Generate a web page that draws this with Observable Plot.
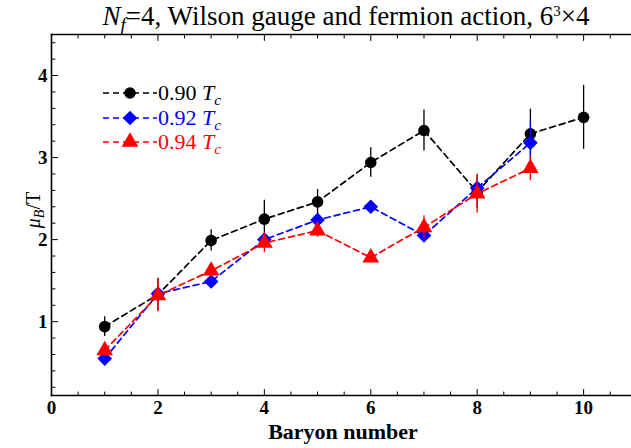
<!DOCTYPE html>
<html><head><meta charset="utf-8">
<script src="https://cdn.jsdelivr.net/npm/d3@7"></script>
<script src="https://cdn.jsdelivr.net/npm/@observablehq/plot@0.6"></script>
<style>
body{margin:0;background:#fff;}
#wrap{position:relative;width:631px;height:448px;font-family:"Liberation Serif","Times New Roman",Times,serif;overflow:hidden;background:#fff}
#title{height:30px;position:relative}
#title span{position:absolute;left:346px;top:3px;transform:translateX(-50%);white-space:nowrap;font-size:27px;line-height:1}
#xlabel{position:absolute;left:343px;top:421px;transform:translateX(-50%);font-size:22px;font-weight:bold;line-height:1;white-space:nowrap}
#ylabel{position:absolute;left:33px;top:210px;transform:translate(-50%,-50%) rotate(-90deg);font-size:20px;line-height:1;white-space:nowrap}
#legend{position:absolute;left:103px;top:81px;}
.lrow{display:flex;align-items:center;height:24.5px;font-size:22px;line-height:1;white-space:nowrap}
.lrow svg{display:block;margin-right:1px}
sub{font-size:0.7em;vertical-align:-0.3em;line-height:0}
sup{font-size:0.55em;vertical-align:0.6em;line-height:0}
</style></head>
<body>
<div id="wrap">
  <div id="title"><span><i>N</i><sub><i>f</i></sub>=4, Wilson gauge and fermion action, 6<sup>3</sup>×4</span></div>
  <div id="chart"></div>
  <div id="xlabel">Baryon number</div>
  <div id="ylabel"><i>μ</i><sub><i>B</i></sub>/T</div>
  <div id="legend"></div>
</div>
<script>
// ---- data ----
const baryon = [1, 2, 3, 4, 5, 6, 7, 8, 9, 10];
const mu090  = [0.94, 1.33, 1.99, 2.25, 2.46, 2.94, 3.33, 2.58, 3.29, 3.49];
const err090 = [0.12, 0.20, 0.13, 0.23, 0.15, 0.18, 0.25, 0.20, 0.30, 0.39];
const mu092  = [0.55, 1.34, 1.49, 2.00, 2.24, 2.40, 2.05, 2.63, 3.18];
const err092 = [0.05, 0.06, 0.08, 0.06, 0.08, 0.07, 0.07, 0.10, 0.25];
const mu094  = [0.65, 1.32, 1.62, 1.96, 2.11, 1.78, 2.15, 2.56, 2.87];
const err094 = [0.07, 0.20, 0.08, 0.12, 0.08, 0.06, 0.14, 0.24, 0.15];
const seriesLabels = ["0.90", "0.92", "0.94"];
const xTickLabels = [0, 2, 4, 6, 8, 10];
const yTickLabels = [1, 2, 3, 4];

// ---- build ----
const colors = ["black", "blue", "red"];
const symbols = ["circle", "diamond2", "triangle"];
const radii = [5.8, 6.6, 6.2];
const mus = [mu090, mu092, mu094], errs = [err090, err092, err094];
const series = seriesLabels.map((lab, k) => ({
  label: lab, color: colors[k], symbol: symbols[k], r: radii[k],
  rows: mus[k].map((m, i) => ({n: baryon[i], mu: m, err: errs[k][i]}))
}));

const xMinor = d3.range(0, 10.95, 0.5).filter(v => !xTickLabels.includes(v));
const yMinor = d3.range(0.2, 4.45, 0.2).map(v => +v.toFixed(1)).filter(v => !yTickLabels.includes(v));

const tickUp = {draw(c, l) { c.moveTo(0, 0); c.lineTo(0, -l); }};
const tickDown = {draw(c, l) { c.moveTo(0, 0); c.lineTo(0, l); }};
const tickRight = {draw(c, l) { c.moveTo(0, 0); c.lineTo(l, 0); }};

const marks = [];
for (const s of series) {
  marks.push(Plot.ruleX(s.rows, {x: "n", y1: d => d.mu - d.err, y2: d => d.mu + d.err, stroke: s.color, strokeWidth: 1.3}));
  marks.push(Plot.line(s.rows, {x: "n", y: "mu", stroke: s.color, strokeWidth: 1.7, strokeDasharray: "6,4"}));
  marks.push(Plot.dot(s.rows, {x: "n", y: "mu", symbol: s.symbol, r: s.r, fill: s.color}));
}
const tk = {stroke: "black", strokeWidth: 1, anchor: "start"};
marks.push(
  Plot.vector(xTickLabels, {x: d => d, frameAnchor: "bottom", length: 6, shape: tickUp, ...tk}),
  Plot.vector(xMinor, {x: d => d, frameAnchor: "bottom", length: 3.5, shape: tickUp, ...tk}),
  Plot.vector(xTickLabels, {x: d => d, frameAnchor: "top", length: 6, shape: tickDown, ...tk}),
  Plot.vector(xMinor, {x: d => d, frameAnchor: "top", length: 3.5, shape: tickDown, ...tk}),
  Plot.vector(yTickLabels, {y: d => d, frameAnchor: "left", length: 6, shape: tickRight, ...tk}),
  Plot.vector(yMinor, {y: d => d, frameAnchor: "left", length: 3.5, shape: tickRight, ...tk}),
  Plot.frame({anchor: "left", strokeWidth: 1.6}),
  Plot.frame({anchor: "bottom", strokeWidth: 1.6}),
  Plot.frame({anchor: "top", strokeWidth: 1.6}),
  Plot.axisX(xTickLabels, {tickSize: 0, tickPadding: 5, tickFormat: d => String(d), fontWeight: "bold", fontSize: 19, label: null}),
  Plot.axisY(yTickLabels, {tickSize: 0, tickPadding: 4, tickFormat: d => String(d), fontWeight: "bold", fontSize: 19, label: null})
);

const chart = Plot.plot({
  width: 631, height: 418,
  marginLeft: 51, marginRight: 0, marginTop: 4, marginBottom: 53,
  x: {domain: [0, 10.9]},
  y: {domain: [0.1, 4.5]},
  style: {fontFamily: "Liberation Serif, Times New Roman, serif", fontSize: "18px", overflow: "visible", background: "white", color: "black"},
  marks
});
document.getElementById("chart").appendChild(chart);

// ---- legend ----
const leg = d3.select("#legend");
for (const s of series) {
  const row = leg.append("div").attr("class", "lrow").style("color", s.color);
  const svg = row.append("svg").attr("width", 54).attr("height", 20);
  svg.append("line").attr("x1", 0).attr("x2", 54).attr("y1", 10).attr("y2", 10)
    .attr("stroke", s.color).attr("stroke-width", 1.7).attr("stroke-dasharray", "6,4");
  const sym = {circle: d3.symbolCircle, diamond2: d3.symbolDiamond2, triangle: d3.symbolTriangle}[s.symbol];
  svg.append("path").attr("transform", "translate(27,10)")
    .attr("d", d3.symbol(sym, Math.PI * s.r * s.r)()).attr("fill", s.color);
  row.append("span").html(`${s.label} <i>T</i><sub><i>c</i></sub>`);
}
</script>
</body></html>
